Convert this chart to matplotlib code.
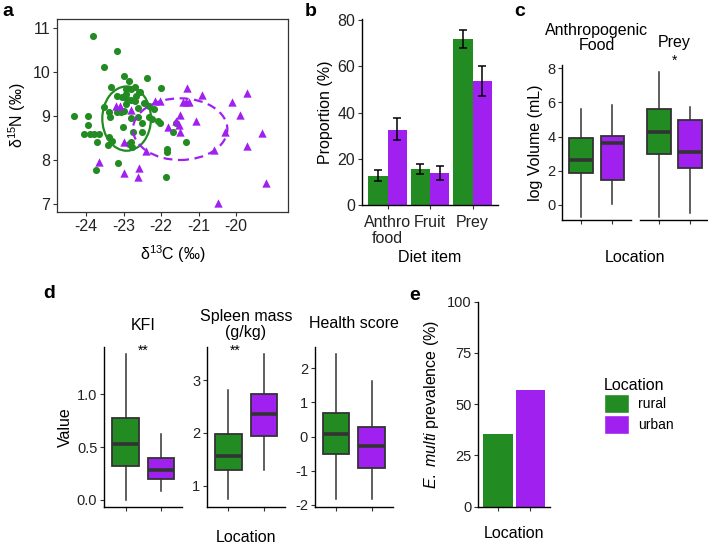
import numpy as np
import matplotlib
matplotlib.use("Agg")
import matplotlib.pyplot as plt
from matplotlib.patches import Ellipse, Patch

plt.rcParams['font.family'] = ['Liberation Sans', 'DejaVu Sans']
plt.rcParams['mathtext.fontset'] = 'custom'
plt.rcParams['mathtext.rm'] = 'Liberation Sans'
plt.rcParams['mathtext.it'] = 'Liberation Sans:italic'
plt.rcParams['axes.unicode_minus'] = False

GREEN = "#228B22"
PURPLE = "#A020F0"
EDGE = "#333333"
TITLE_FS = 11.5
TICK_FS = 10.5

# ---- panel a: isotopes ----
rural_c13 = [-23.82, -23.17, -23.52, -22.98, -22.87, -22.37, -23.34, -22.94, -22.80, -22.69,
             -22.01, -23.18, -23.05, -22.93, -22.81, -22.67, -22.56, -22.93, -23.52, -23.00,
             -23.07, -22.61, -23.36, -23.18, -22.80, -22.62, -22.31, -22.31, -22.25, -22.07,
             -22.03, -23.02, -22.52, -22.52, -22.76, -23.79, -23.65, -23.72, -23.39, -23.31,
             -23.42, -22.87, -22.81, -22.78, -24.32, -23.95, -23.94, -24.05, -23.91, -23.14,
             -23.75, -21.88, -21.85, -21.85, -21.34, -21.69, -21.60, -23.40, -22.60, -22.45,
             -22.20, -22.95, -22.70]
rural_n15 = [10.81, 10.48, 10.10, 9.91, 9.80, 9.86, 9.65, 9.61, 9.61, 9.65,
             9.64, 9.45, 9.42, 9.40, 9.36, 9.46, 9.54, 9.27, 9.21, 9.11,
             9.08, 9.17, 8.98, 9.08, 8.95, 8.98, 9.23, 8.98, 8.92, 8.89,
             8.85, 8.76, 8.83, 8.64, 8.64, 8.59, 8.59, 8.40, 8.53, 8.43,
             8.34, 8.36, 8.40, 8.30, 9.00, 9.00, 8.80, 8.60, 8.60, 7.94,
             7.78, 7.61, 8.25, 8.19, 8.41, 8.64, 8.85, 9.10, 9.55, 9.30,
             9.15, 9.50, 9.35]
urban_c13 = [-23.20, -23.11, -22.80, -23.00, -23.66, -23.00, -22.60, -22.62, -22.40, -22.16,
             -22.03, -21.32, -20.90, -21.42, -21.33, -21.25, -21.50, -21.60, -21.08, -21.82,
             -21.50, -20.29, -20.59, -20.47, -20.10, -19.89, -19.70, -19.30, -19.70, -19.21,
             -21.51]
urban_n15 = [9.23, 9.23, 9.14, 8.40, 7.96, 7.71, 7.82, 7.62, 8.21, 9.33,
             9.33, 9.63, 9.48, 9.31, 9.31, 9.31, 9.02, 8.89, 8.89, 8.74,
             8.63, 8.63, 8.23, 7.03, 9.31, 9.02, 9.53, 8.62, 8.32, 7.48,
             8.80]
# ellipse centre x, centre y, width, height
rural_ell = (-22.92, 8.94, 1.30, 1.46)
urban_ell = (-21.49, 8.70, 2.52, 1.40)

# ---- panel b: diet proportions ----
diet_items = ["Anthro\nfood", "Fruit", "Prey"]
rural_prop = [12.8, 15.7, 71.8]
rural_lo = [10.5, 13.4, 68.1]
rural_hi = [15.2, 17.8, 75.7]
urban_prop = [32.7, 14.0, 53.8]
urban_lo = [28.1, 10.9, 47.3]
urban_hi = [37.6, 17.0, 60.2]

# ---- panel c: log volume boxes (whislo, q1, med, q3, whishi) ----
anthro_rural = [-0.68, 1.87, 2.61, 3.94, 5.61]
anthro_urban = [0.04, 1.46, 3.61, 4.02, 5.85]
prey_rural = [-0.68, 2.98, 4.29, 5.61, 7.80]
prey_urban = [-0.49, 2.15, 3.12, 4.97, 5.75]

# ---- panel d: health measures ----
kfi_rural = [0.0, 0.32, 0.53, 0.78, 1.38]
kfi_urban = [0.085, 0.20, 0.28, 0.40, 0.62]
spleen_rural = [0.74, 1.29, 1.57, 1.98, 2.81]
spleen_urban = [1.30, 1.94, 2.36, 2.74, 3.49]
health_rural = [-1.83, -0.52, 0.07, 0.69, 2.42]
health_urban = [-1.83, -0.91, -0.27, 0.29, 1.62]

# ---- panel e: prevalence ----
locations = ["rural", "urban"]
prevalence = [35.3, 56.9]

W, H = 708, 546
fig = plt.figure(figsize=(W / 100, H / 100), dpi=100)


def px_axes(l, t, r, b):
    return fig.add_axes([l / W, 1 - b / H, (r - l) / W, (b - t) / H])


def classic(ax, left=True, size=TICK_FS):
    for s in ["top", "right"]:
        ax.spines[s].set_visible(False)
    ax.spines["bottom"].set_linewidth(1.0)
    ax.spines["left"].set_linewidth(1.0)
    if not left:
        ax.spines["left"].set_visible(False)
        ax.tick_params(axis="y", left=False, labelleft=False)
    ax.tick_params(length=3, width=0.8, color=EDGE, labelsize=size, pad=2,
                   labelcolor="#222222")


def stats(v):
    return dict(whislo=v[0], q1=v[1], med=v[2], q3=v[3], whishi=v[4], fliers=[])


def boxes(ax, rv, uv):
    bp = ax.bxp([stats(rv), stats(uv)], positions=[1, 2], widths=0.75,
                patch_artist=True, showcaps=False, showfliers=False,
                boxprops=dict(edgecolor=EDGE, linewidth=1.3),
                medianprops=dict(color=EDGE, linewidth=2.6),
                whiskerprops=dict(color=EDGE, linewidth=1.1))
    for patch, col in zip(bp["boxes"], [GREEN, PURPLE]):
        patch.set_facecolor(col)
    ax.set_xlim(0.4, 2.6)
    ax.set_xticks([1, 2])
    ax.set_xticklabels([])


def ftext(x, y, s, **kw):
    fig.text(x / W, 1 - y / H, s, **kw)


# ===== a =====
ax = px_axes(57, 19, 288, 212)
ax.scatter(rural_c13, rural_n15, s=26, color=GREEN, marker="o", linewidths=0, zorder=3)
ax.scatter(urban_c13, urban_n15, s=36, color=PURPLE, marker="^", linewidths=0, zorder=3)
ax.add_patch(Ellipse(rural_ell[:2], rural_ell[2], rural_ell[3], fill=False,
                     edgecolor=GREEN, linewidth=1.6, zorder=4))
ax.add_patch(Ellipse(urban_ell[:2], urban_ell[2], urban_ell[3], fill=False,
                     edgecolor=PURPLE, linewidth=1.6, linestyle=(0, (4, 2.5)), zorder=4))
ax.set_xlim(-24.78, -18.61)
ax.set_ylim(6.82, 11.2)
ax.set_xticks([-24, -23, -22, -21, -20])
ax.set_yticks([7, 8, 9, 10, 11])
for s in ax.spines.values():
    s.set_linewidth(0.9)
    s.set_color(EDGE)
ax.tick_params(length=3, width=0.8, color=EDGE, labelsize=11.5, pad=2, labelcolor="#222222")
ax.set_xlabel("δ$^{13}$C (‰)", fontsize=TITLE_FS, labelpad=7)
ax.set_ylabel("δ$^{15}$N (‰)", fontsize=TITLE_FS, labelpad=3)

# ===== b =====
ax = px_axes(362, 19, 498, 205.3)
x = np.arange(1, 4)
bw = 0.45
ax.bar(x - bw / 2, rural_prop, width=bw, color=GREEN)
ax.bar(x + bw / 2, urban_prop, width=bw, color=PURPLE)
ax.errorbar(x - bw / 2, rural_prop,
            yerr=[np.subtract(rural_prop, rural_lo), np.subtract(rural_hi, rural_prop)],
            fmt="none", ecolor="black", elinewidth=1.1, capsize=3, capthick=1.1)
ax.errorbar(x + bw / 2, urban_prop,
            yerr=[np.subtract(urban_prop, urban_lo), np.subtract(urban_hi, urban_prop)],
            fmt="none", ecolor="black", elinewidth=1.1, capsize=3, capthick=1.1)
ax.set_xlim(0.4, 3.6)
ax.set_ylim(0, 80.5)
ax.set_yticks([0, 20, 40, 60, 80])
ax.set_xticks(x)
ax.set_xticklabels(diet_items, linespacing=1.05)
classic(ax, size=11.5)
ax.tick_params(axis="x", pad=4)
ax.set_ylabel("Proportion (%)", fontsize=TITLE_FS, labelpad=3)
ax.set_xlabel("Diet item", fontsize=TITLE_FS, labelpad=3)

# ===== c =====
axc1 = px_axes(562.3, 65, 631, 220)
boxes(axc1, anthro_rural, anthro_urban)
axc1.set_ylim(-0.88, 8.19)
axc1.set_yticks([0, 2, 4, 6, 8])
classic(axc1)
axc1.set_ylabel("log Volume (mL)", fontsize=TITLE_FS, labelpad=3)
axc2 = px_axes(640, 65, 708.9, 220)
boxes(axc2, prey_rural, prey_urban)
axc2.set_ylim(-0.88, 8.19)
classic(axc2, left=False)
axc2.text(1.5, 8.45, "*", ha="center", va="center", fontsize=10, clip_on=False)
ftext(597, 38, "Anthropogenic\nFood", ha="center", va="center", fontsize=TITLE_FS, linespacing=1.05)
ftext(674, 42, "Prey", ha="center", va="center", fontsize=TITLE_FS)
ftext(635, 257, "Location", ha="center", va="center", fontsize=TITLE_FS)

# ===== d =====
axk = px_axes(104.3, 347.3, 182.3, 506.7)
boxes(axk, kfi_rural, kfi_urban)
axk.set_ylim(-0.066, 1.446)
axk.set_yticks([0.0, 0.5, 1.0])
axk.set_yticklabels(["0.0", "0.5", "1.0"])
classic(axk)
axk.set_ylabel("Value", fontsize=TITLE_FS, labelpad=3)
axk.text(1.5, 1.41, "**", ha="center", va="center", fontsize=10, clip_on=False)

axs = px_axes(207.3, 347.3, 285, 506.7)
boxes(axs, spleen_rural, spleen_urban)
axs.set_ylim(0.60, 3.62)
axs.set_yticks([1, 2, 3])
classic(axs)
axs.text(1.2, 3.55, "**", ha="center", va="center", fontsize=10, clip_on=False)

axh = px_axes(315, 347.3, 392.7, 506.7)
boxes(axh, health_rural, health_urban)
axh.set_ylim(-2.05, 2.61)
axh.set_yticks([-2, -1, 0, 1, 2])
classic(axh)

ftext(143.3, 325, "KFI", ha="center", va="center", fontsize=TITLE_FS)
ftext(246, 324.5, "Spleen mass\n(g/kg)", ha="center", va="center", fontsize=TITLE_FS, linespacing=1.05)
ftext(354, 323.5, "Health score", ha="center", va="center", fontsize=TITLE_FS)
ftext(246, 538, "Location", ha="center", va="center", fontsize=TITLE_FS)

# ===== e =====
axe = px_axes(478.3, 301.7, 550, 506.7)
axe.bar([1, 2], prevalence, width=0.9, color=[GREEN, PURPLE])
axe.set_xlim(0.4, 2.6)
axe.set_ylim(0, 100)
axe.set_yticks([0, 25, 50, 75, 100])
axe.set_xticks([1, 2])
axe.set_xticklabels([])
classic(axe)
axe.set_ylabel("$\\it{E.\\ multi}$ prevalence (%)", fontsize=TITLE_FS, labelpad=4)
axe.set_xlabel("Location", fontsize=TITLE_FS, labelpad=9)

# legend
handles = [Patch(facecolor=GREEN, edgecolor="white"), Patch(facecolor=PURPLE, edgecolor="white")]
leg = fig.legend(handles, locations, title="Location", loc="upper left",
                 bbox_to_anchor=(598 / W, 1 - 372 / H), frameon=False,
                 fontsize=10, title_fontsize=TITLE_FS, handlelength=1.8, handleheight=1.75,
                 handletextpad=0.7, labelspacing=0.12, borderaxespad=0)
leg._legend_box.align = "left"

# panel letters
for lab, (px, py) in zip("abcde", [(8, 12), (311, 12), (520, 12), (49, 293), (415, 295)]):
    ftext(px, py, lab, ha="center", va="center", fontsize=14, fontweight="bold")

fig.savefig("out.png", dpi=100)
